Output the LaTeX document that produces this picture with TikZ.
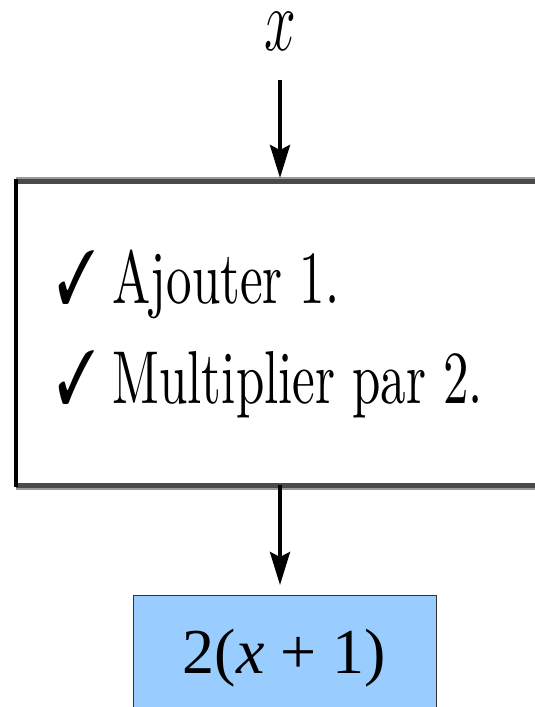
\RequirePackage{fix-cm}
\documentclass[tikz,border=0pt]{standalone}
\usepackage{fontspec}
\usepackage{pifont}
\usepackage{graphicx}
\usetikzlibrary{arrows.meta}
\newfontfamily\resultfont{Liberation Serif}
\newfontfamily\stepfont{lmroman10-regular}[Extension=.otf]
\definecolor{resultblue}{HTML}{99CCFF}
\definecolor{rimdark}{HTML}{4A4A4A}
\definecolor{rimlight}{HTML}{9A9A9A}
\newcommand{\tallline}[1]{\scalebox{1}[1.47]{\fontsize{51}{51}\stepfont #1}}
\tikzset{
  flow/.style={line width=4pt, -{Stealth[length=33pt, width=20pt, inset=5pt]}},
  stepline/.style={anchor=base west, inner sep=0pt},
}
\begin{document}
\begin{tikzpicture}[x=1pt, y=1pt]
\useasboundingbox (0, 0) rectangle (535, -707);

\node [inner sep=0pt, anchor=base] (xlabel) at (280, -50) {\scalebox{1}[1.55]{\fontsize{57}{57}\selectfont $x$}};
\node [inner sep=0pt, minimum width=560pt, minimum height=304pt, anchor=north west] (steps) at (16, -181) {};
\node [stepline] (stepone) at (57, -303) {\tallline{\ding{51} Ajouter 1.}};
\node [stepline] (steptwo) at (57, -403) {\tallline{\ding{51} Multiplier par 2.}};
\node [draw=black!80, line width=1pt, fill=resultblue, minimum width=303pt, minimum height=126pt, anchor=north] (result) at (284.5, -595) {\fontsize{64}{64}\selectfont\resultfont 2(\textit{x} + 1)};

% box rims
\draw [color=rimlight, line width=4pt] ([yshift=2.5pt]steps.north west) -- ([yshift=2.5pt]steps.north east);
\draw [color=rimdark, line width=5pt] (steps.north west) -- (steps.north east);
\draw [color=rimlight, line width=4pt] ([yshift=-2.5pt]steps.south west) -- ([yshift=-2.5pt]steps.south east);
\draw [color=rimdark, line width=5pt] (steps.south west) -- (steps.south east);
\draw [color=black, line width=4pt] ([yshift=2pt]steps.north west) -- ([yshift=-2pt]steps.south west);

\draw [flow, shorten <=30pt, shorten >=3pt] (xlabel) -- (xlabel |- steps.north);
\draw [flow, shorten >=10pt] (steps.south -| xlabel) -- (result.north -| xlabel);
\end{tikzpicture}
\end{document}
